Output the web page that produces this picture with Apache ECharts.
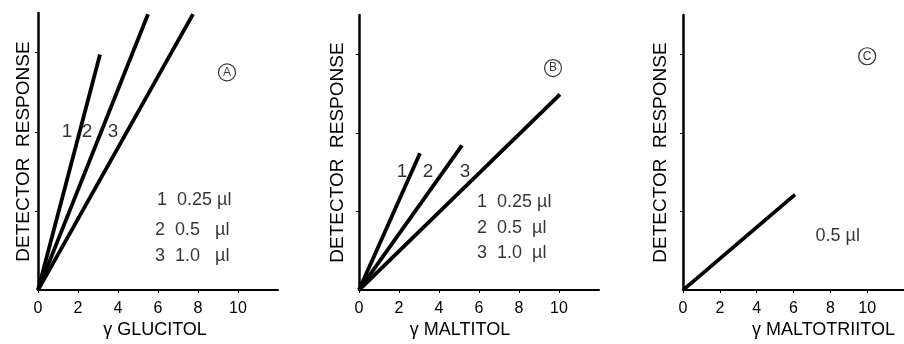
<!DOCTYPE html>
<html>
<head>
<meta charset="utf-8">
<script src="https://cdn.jsdelivr.net/npm/echarts@6/dist/echarts.min.js"></script>
<style>
html, body { margin: 0; padding: 0; background: #fff; }
#chart { width: 904px; height: 344px; }
</style>
</head>
<body>
<div id="chart"></div>
<script>
// tick values shared by the three panels
const xTickVals = [0, 2, 4, 6, 8, 10]
const yTickVals = [2, 4, 6]

// panel A: glucitol, three injection volumes
const glucitol1 = [[0, 0], [3.1, 5.95]]
const glucitol2 = [[0, 0], [5.5, 6.97]]
const glucitol3 = [[0, 0], [7.75, 6.97]]
const glucitolCurveTags = [[1.45, 4.0, '1'], [2.45, 4.0, '2'], [3.75, 4.0, '3']]
const glucitolKey = [[5.95, 2.27, '1  0.25 µl'], [5.85, 1.52, '2  0.5   µl'], [5.85, 0.87, '3  1.0   µl']]

// panel B: maltitol
const maltitol1 = [[0, 0], [3.05, 3.48]]
const maltitol2 = [[0, 0], [5.15, 3.68]]
const maltitol3 = [[0, 0], [10.05, 4.98]]
const maltitolCurveTags = [[2.15, 3.0, '1'], [3.45, 3.0, '2'], [5.3, 3.0, '3']]
const maltitolKey = [[5.9, 2.25, '1  0.25 µl'], [5.9, 1.58, '2  0.5  µl'], [5.9, 0.95, '3  1.0  µl']]

// panel C: maltotriitol
const maltotriitol = [[0, 0], [6.08, 2.43]]
const maltotriitolKey = [[7.2, 1.38, '0.5 µl']]

// circled panel letters
const panelMarks = [[[9.45, 5.5, 'A']], [[9.7, 5.65, 'B']], [[10.0, 5.95, 'C']]]

const ink = '#000'
const font = 'Liberation Sans, Arial, sans-serif'

function xAx (idx, name, pad) {
  return {
    type: 'value',
    gridIndex: idx,
    min: 0,
    max: 12,
    interval: 2,
    name: name,
    nameLocation: 'middle',
    nameGap: 26,
    nameTextStyle: {color: ink, fontSize: 18, fontFamily: font, padding: pad},
    axisLine: {lineStyle: {color: ink, width: 2}},
    axisTick: {show: true, length: 3, customValues: xTickVals, lineStyle: {color: ink}},
    axisLabel: {customValues: xTickVals, color: ink, fontSize: 16, fontFamily: font, margin: 10},
    splitLine: {show: false}
  }
}

function yAx (idx, gap) {
  return {
    type: 'value',
    gridIndex: idx,
    min: 0,
    max: 7,
    interval: 2,
    name: 'DETECTOR  RESPONSE',
    nameLocation: 'middle',
    nameGap: gap,
    nameTextStyle: {color: ink, fontSize: 19, fontFamily: font},
    axisLine: {show: true, lineStyle: {color: ink, width: 2.5}},
    axisTick: {show: true, length: 3, customValues: yTickVals, lineStyle: {color: ink}},
    axisLabel: {show: false},
    splitLine: {show: false}
  }
}

function curve (idx, data) {
  return {
    type: 'line',
    xAxisIndex: idx,
    yAxisIndex: idx,
    data: data,
    symbol: 'none',
    silent: true,
    lineStyle: {color: ink, width: 3.8}
  }
}

function tags (idx, data, size, pos) {
  return {
    type: 'scatter',
    xAxisIndex: idx,
    yAxisIndex: idx,
    data: data,
    symbolSize: 0,
    silent: true,
    label: {
      show: true,
      position: pos,
      distance: 0,
      color: ink,
      fontSize: size,
      fontFamily: font,
      formatter: p => p.data[2]
    }
  }
}

function circled (idx, data) {
  return {
    type: 'scatter',
    xAxisIndex: idx,
    yAxisIndex: idx,
    data: data,
    symbol: 'circle',
    symbolSize: 17,
    silent: true,
    itemStyle: {color: '#fff', borderColor: ink, borderWidth: 1.2},
    label: {show: true, position: 'inside', color: ink, fontSize: 12, fontFamily: font, formatter: p => p.data[2]}
  }
}

const chart = echarts.init(document.getElementById('chart'))
chart.setOption({
  animation: false,
  backgroundColor: '#fff',
  grid: [
    {left: 38, top: 13, width: 240, height: 280},
    {left: 359, top: 15, width: 240, height: 278},
    {left: 683, top: 15, width: 245, height: 278}
  ],
  xAxis: [
    xAx(0, 'γ GLUCITOL', [0, 6, 0, 0]),
    xAx(1, 'γ MALTITOL', [0, 38, 0, 0]),
    xAx(2, 'γ MALTOTRIITOL', [0, 0, 0, 60])
  ],
  yAxis: [yAx(0, 5), yAx(1, 12), yAx(2, 13)],
  series: [
    curve(0, glucitol1), curve(0, glucitol2), curve(0, glucitol3),
    tags(0, glucitolCurveTags, 19, 'inside'),
    tags(0, glucitolKey, 18, 'right'),
    circled(0, panelMarks[0]),
    curve(1, maltitol1), curve(1, maltitol2), curve(1, maltitol3),
    tags(1, maltitolCurveTags, 19, 'inside'),
    tags(1, maltitolKey, 18, 'right'),
    circled(1, panelMarks[1]),
    curve(2, maltotriitol),
    tags(2, maltotriitolKey, 18, 'right'),
    circled(2, panelMarks[2])
  ]
})
</script>
</body>
</html>
